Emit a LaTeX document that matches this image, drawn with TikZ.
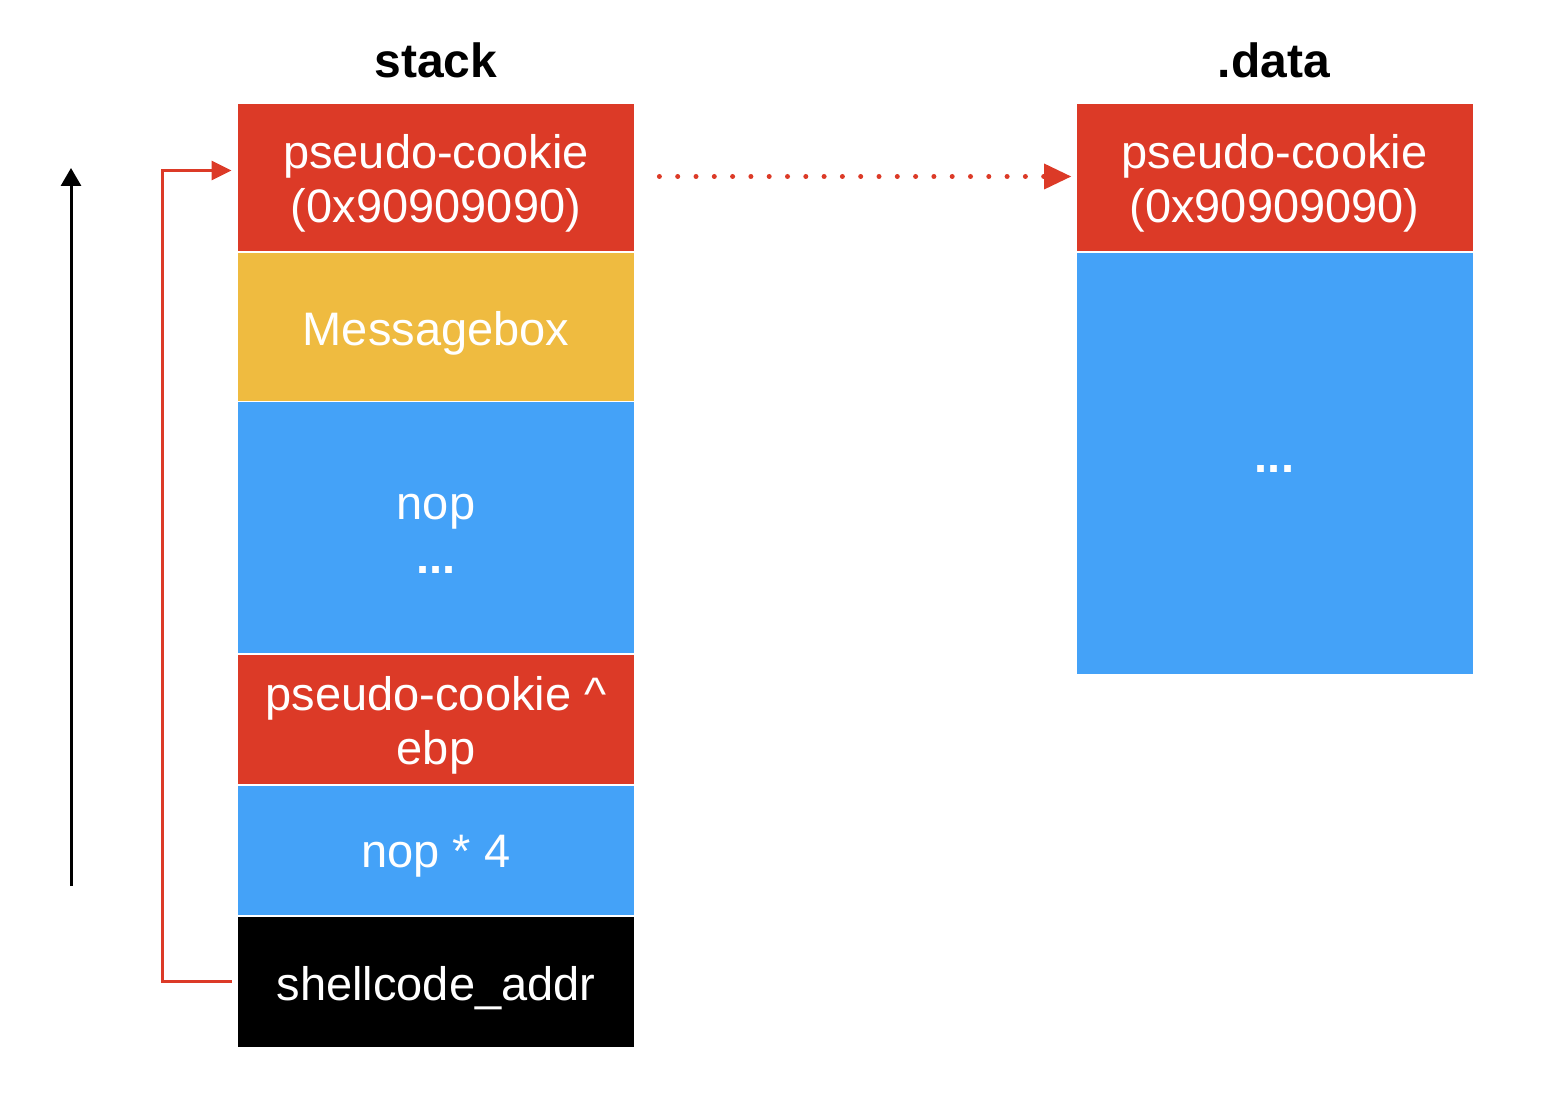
\documentclass[tikz,border=0pt]{standalone}
\usepackage{fontspec}
\setmainfont{Liberation Sans}
\usetikzlibrary{arrows.meta}
\definecolor{cred}{HTML}{DC3A27}
\definecolor{cyellow}{HTML}{EFBB40}
\definecolor{cblue}{HTML}{44A2F8}
\begin{document}
\begin{tikzpicture}[x=0.5pt,y=-0.5pt,
  box/.style={rectangle, inner sep=0pt, minimum width=198pt},
  txt/.style={text=white, align=center, inner sep=0pt, yshift=-3pt,
    font=\fontsize{23.5}{27}\selectfont},
  title/.style={font=\fontsize{24}{28}\selectfont\bfseries, text=black},
  redline/.style={draw=cred, line width=1.5pt, -{Triangle[length=10pt,width=9.5pt]}},
  dotline/.style={draw=cred, line width=2.5pt, line cap=round, dash pattern=on 0pt off 9.15pt,
    -{Triangle[length=13.5pt,width=13pt,line width=0pt]}},
  upline/.style={draw=black, line width=1.5pt, -{Triangle[length=9pt,width=10pt]}}]
\useasboundingbox (0,0) rectangle (1560,1096);
\node[title] (tstack) at (436,60) {stack};
\node[title] (tdata) at (1274,60) {.data};
% stack
\node[box, fill=cred, minimum height=73.5pt] (s1) at (436,177.5) {};
\node[txt] (s1t) at (s1.center) {pseudo-cookie\\(0x90909090)};
\node[box, fill=cyellow, minimum height=74pt] (s2) at (436,327) {};
\node[txt] (s2t) at (s2.center) {Messagebox};
\node[box, fill=cblue, minimum height=125.5pt] (s3) at (436,527.5) {};
\node[txt] (s3t) at (s3.center) {nop\\\textbf{...}};
\node[box, fill=cred, minimum height=64.5pt] (s4) at (436,719.5) {};
\node[txt] (s4t) at (s4.center) {pseudo-cookie \^{}\\ebp};
\node[box, fill=cblue, minimum height=64.5pt] (s5) at (436,850.5) {};
\node[txt] (s5t) at (s5.center) {nop * 4};
\node[box, fill=black, minimum height=65pt] (s6) at (436,982) {};
\node[txt] (s6t) at (s6.center) {shellcode\_addr};
% data
\node[box, fill=cred, minimum height=73.5pt] (d1) at (1274.5,177.5) {};
\node[txt] (d1t) at (d1.center) {pseudo-cookie\\(0x90909090)};
\node[box, fill=cblue, minimum height=210.5pt] (d2) at (1274.5,463.5) {};
\node[txt] (d2t) at (d2.center) {\textbf{...}};
% arrows
\coordinate (ua) at (71,886);
\coordinate (ub) at (71,168);
\draw[upline] (ua) -- (ub);
\draw[redline] ([xshift=-3pt,yshift=0.5pt]s6.west) -- ++(-34.5pt,0) |- ([xshift=-3pt,yshift=3.5pt]s1.west);
\draw[dotline] ([xshift=12.5pt,yshift=0.5pt]s1.east) -- ([xshift=-2.5pt,yshift=0.5pt]d1.west);
\end{tikzpicture}
\end{document}
